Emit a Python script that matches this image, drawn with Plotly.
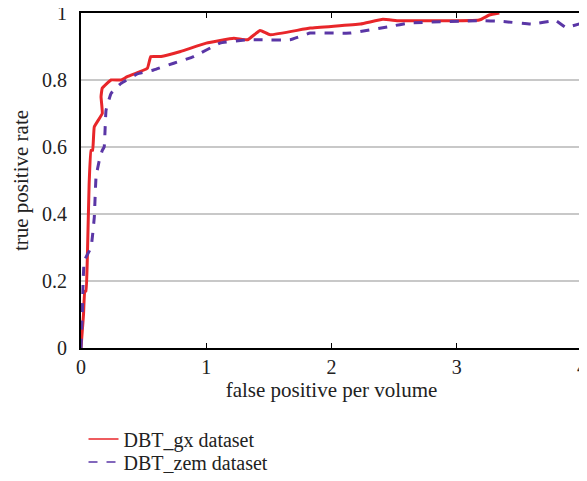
import plotly.graph_objects as go

gx_x = [0, 0.01, 0.02, 0.03, 0.04, 0.05, 0.065, 0.08, 0.093, 0.106, 0.17, 0.16, 0.17, 0.24, 0.32, 0.37, 0.53, 0.557, 0.64, 0.795, 1.0, 1.22, 1.33, 1.43, 1.51, 1.83, 2.23, 2.41, 2.54, 3.18, 3.26, 3.34]
gx_y = [0, 0.05, 0.1, 0.17, 0.17, 0.26, 0.49, 0.59, 0.59, 0.66, 0.70, 0.75, 0.776, 0.80, 0.80, 0.81, 0.835, 0.87, 0.87, 0.885, 0.91, 0.925, 0.92, 0.948, 0.935, 0.955, 0.967, 0.981, 0.977, 0.979, 0.994, 1.0]

zem_x = [0, 0.01, 0.026, 0.08, 0.106, 0.12, 0.146, 0.17, 0.185, 0.2, 0.24, 0.32, 0.45, 0.58, 0.74, 0.9, 1.11, 1.33, 1.43, 1.67, 1.83, 2.15, 2.47, 2.62, 3.18, 3.36, 3.6, 3.79, 3.87, 4.0]
zem_y = [0, 0.1, 0.26, 0.30, 0.39, 0.51, 0.56, 0.59, 0.60, 0.71, 0.76, 0.79, 0.818, 0.83, 0.85, 0.87, 0.91, 0.92, 0.92, 0.92, 0.94, 0.94, 0.96, 0.97, 0.977, 0.975, 0.967, 0.977, 0.957, 0.97]

x_ticks = [0, 1, 2, 3, 4]
y_ticks = [0, 0.2, 0.4, 0.6, 0.8, 1]
y_tick_text = ["0", "0.2", "0.4", "0.6", "0.8", "1"]

series_names = ["DBT_gx dataset", "DBT_zem dataset"]
series_colors = ["#e8262a", "#5a36a6"]

font = "Liberation Serif"
fig = go.Figure()
fig.add_trace(go.Scatter(x=gx_x, y=gx_y, mode="lines", name=series_names[0], showlegend=False,
                         line=dict(color=series_colors[0], width=3, shape="spline", smoothing=0.3)))
fig.add_trace(go.Scatter(x=zem_x, y=zem_y, mode="lines", name=series_names[1], showlegend=False,
                         line=dict(color=series_colors[1], width=3, dash="dash", shape="spline", smoothing=0.3)))
# legend entries with thin line samples, each in its own legend for tight spacing
fig.add_trace(go.Scatter(x=[None], y=[None], mode="lines", name=series_names[0], legend="legend",
                         line=dict(color=series_colors[0], width=1.5)))
fig.add_trace(go.Scatter(x=[None], y=[None], mode="lines", name=series_names[1], legend="legend2",
                         line=dict(color=series_colors[1], width=1.5, dash="dash")))

legend_common = dict(xanchor="left", yanchor="middle", font=dict(size=20, family=font),
                     itemwidth=30, bgcolor="rgba(0,0,0,0)", borderwidth=0)

fig.update_layout(
    width=579, height=465,
    margin=dict(l=73, r=5, t=5, b=125, autoexpand=False),
    paper_bgcolor="white", plot_bgcolor="white",
    font=dict(family=font, size=20, color="#222222"),
    showlegend=True,
    legend=dict(x=0.005, y=-0.2716, **legend_common),
    legend2=dict(x=0.005, y=-0.3403, **legend_common),
    xaxis=dict(range=[0, 4], tickvals=x_ticks, ticks="inside", ticklen=5, tickcolor="black",
               showline=True, linecolor="black", linewidth=2, mirror="ticks", showgrid=False,
               zeroline=False, automargin=False, ticklabeloverflow="allow",
               title=dict(text="false positive per volume", standoff=2, font=dict(size=21)),
               tickfont=dict(size=20)),
    yaxis=dict(range=[0, 1], tickvals=y_ticks, ticktext=y_tick_text, ticks="",
               showline=True, linecolor="black", linewidth=2, mirror=True,
               showgrid=True, gridcolor="#c8c8c8", gridwidth=2, zeroline=False, automargin=False,
               ticklabelstandoff=8, ticklabeloverflow="allow",
               title=dict(text="true positive rate", standoff=8, font=dict(size=21)),
               tickfont=dict(size=20)),
)
fig.write_html("out.html")
